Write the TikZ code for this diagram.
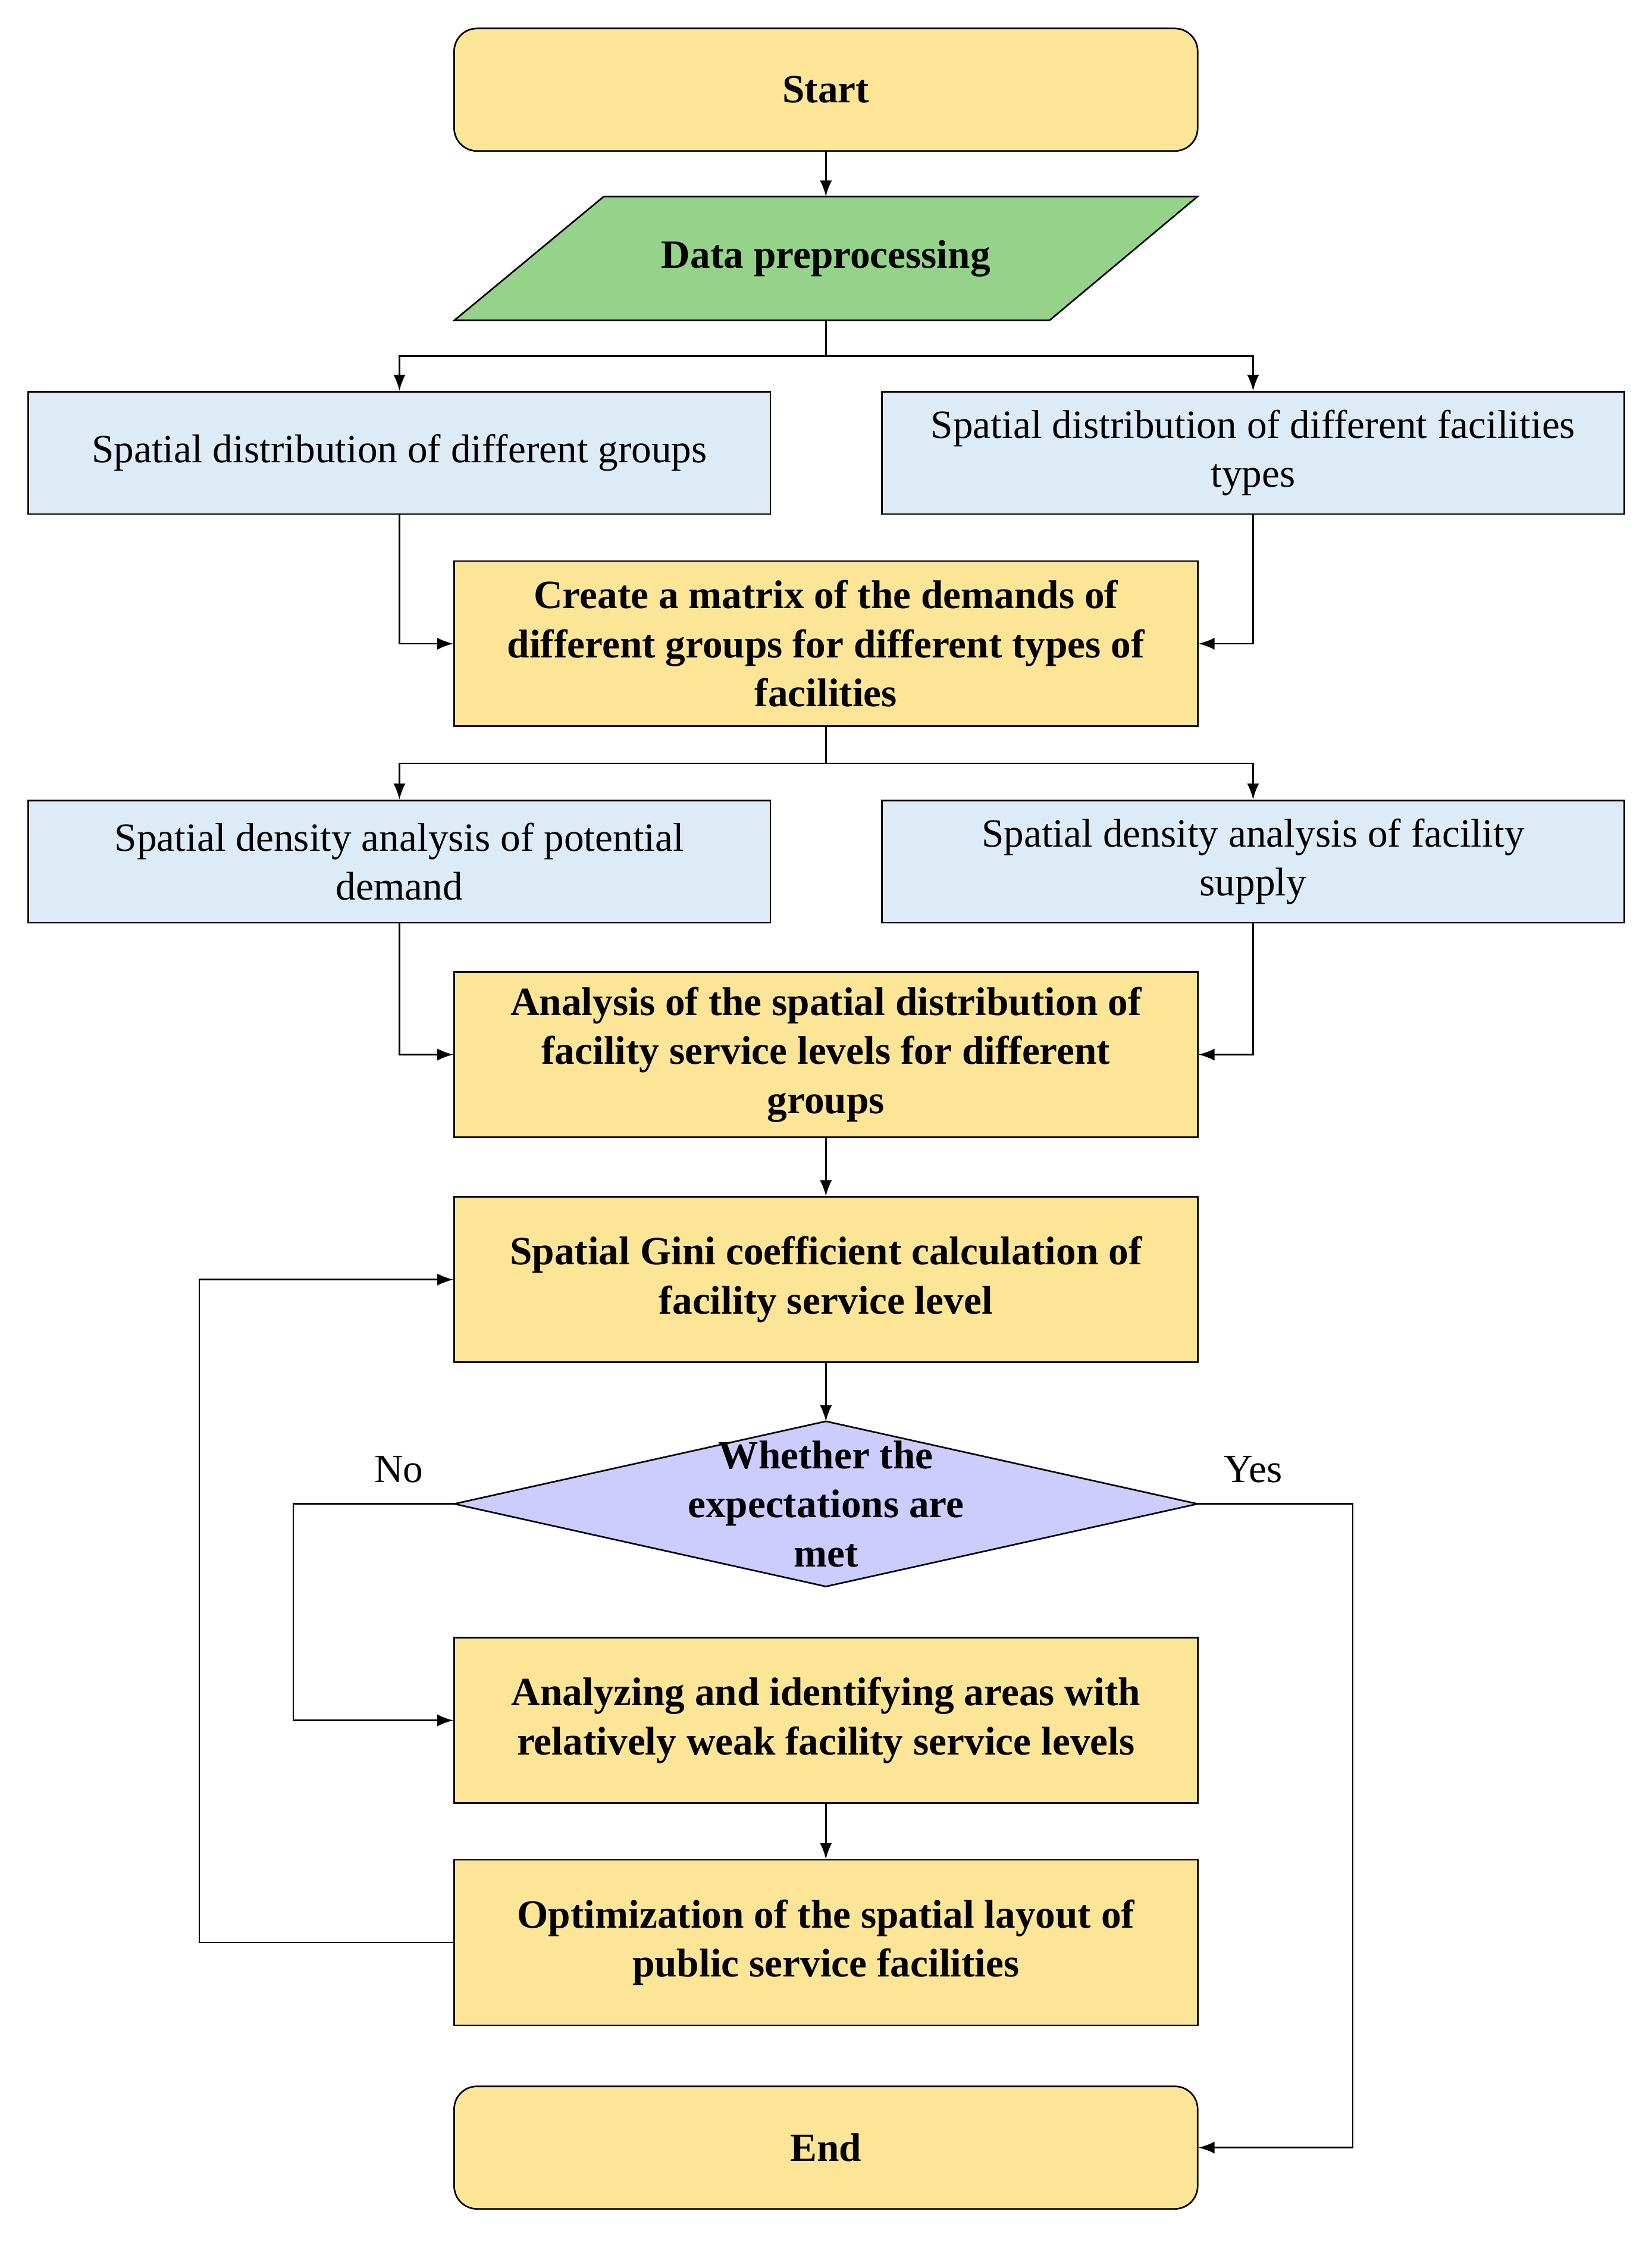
\documentclass[tikz,border=0pt]{standalone}
\usepackage{fontspec}
\setmainfont{Liberation Serif}
\usetikzlibrary{shapes.geometric,arrows.meta}
\definecolor{yel}{HTML}{FDE598}
\definecolor{blu}{HTML}{DDEBF7}
\definecolor{grn}{HTML}{96D38A}
\definecolor{pur}{HTML}{CCCCFF}
\begin{document}
\begin{tikzpicture}[x=0.025cm,y=-0.025cm,
 every node/.style={font=\fontsize{20}{24.5}\selectfont, align=center},
 ybox/.style={draw, thick, fill=yel, minimum width=13.05cm, minimum height=2.9cm, font=\fontsize{20}{24.5}\selectfont\bfseries},
 rbox/.style={ybox, rounded corners=0.4cm, minimum height=2.15cm},
 bbox/.style={draw, thick, fill=blu, minimum width=13.025cm, minimum height=2.15cm},
 arr/.style={-{Latex[length=8pt,width=6pt]}, thick},
 ln/.style={thick}]
\useasboundingbox (0,0) rectangle (1160,1575);
\node[rbox] (start) at (580,63) {Start};
\draw[thick, fill=grn] (424,138) -- (841,138) -- (737,225) -- (319,225) -- cycle;
\node[font=\fontsize{20}{24.5}\selectfont\bfseries] (data) at (580,181.5) {Data preprocessing};
\coordinate (dtop) at (580,138);
\coordinate (dbot) at (580,225);
\node[bbox] (b1) at (280.5,318) {Spatial distribution of different groups};
\node[bbox] (b2) at (880,318) {Spatial distribution of different facilities\\types};
\node[ybox] (mat) at (580,452) {Create a matrix of the demands of\\different groups for different types of\\facilities};
\node[bbox] (b3) at (280.5,605) {Spatial density analysis of potential\\demand};
\node[bbox] (b4) at (880,605) {Spatial density analysis of facility\\supply};
\node[ybox] (ana) at (580,740.5) {Analysis of the spatial distribution of\\facility service levels for different\\groups};
\node[ybox] (gini) at (580,898.5) {Spatial Gini coefficient calculation of\\facility service level};
\draw[thick, fill=pur] (580,998) -- (841,1056) -- (580,1114) -- (319,1056) -- cycle;
\node[font=\fontsize{20}{24.5}\selectfont\bfseries] (dec) at (580,1056) {Whether the\\expectations are\\met};
\coordinate (dt) at (580,998);
\coordinate (dl) at (319,1056);
\coordinate (dr) at (841,1056);
\node[ybox] (weak) at (580,1208) {Analyzing and identifying areas with\\relatively weak facility service levels};
\node[ybox] (opt) at (580,1364) {Optimization of the spatial layout of\\public service facilities};
\node[rbox] (end) at (580,1508) {End};
\draw[arr] (start) -- (dtop);
\coordinate (s1) at (580,250);
\draw[ln] (dbot) -- (s1);
\draw[arr] (s1) -| (b1.north);
\draw[arr] (s1) -| (b2.north);
\draw[arr] (b1.south) |- (mat.west);
\draw[arr] (b2.south) |- (mat.east);
\coordinate (s2) at (580,536);
\draw[ln] (mat.south) -- (s2);
\draw[arr] (s2) -| (b3.north);
\draw[arr] (s2) -| (b4.north);
\draw[arr] (b3.south) |- (ana.west);
\draw[arr] (b4.south) |- (ana.east);
\draw[arr] (ana) -- (gini);
\draw[arr] (gini) -- (dt);
\coordinate (no) at (206,1056);
\draw[arr] (dl) -- (no) |- (weak.west);
\coordinate (yes) at (950,1056);
\draw[arr] (dr) -- (yes) |- (end.east);
\draw[arr] (weak) -- (opt);
\coordinate (lp) at (140,1364);
\draw[arr] (opt.west) -- (lp) |- (gini.west);
\node (nolab) at (280,1032) {No};
\node (yeslab) at (880,1032) {Yes};
\end{tikzpicture}
\end{document}
